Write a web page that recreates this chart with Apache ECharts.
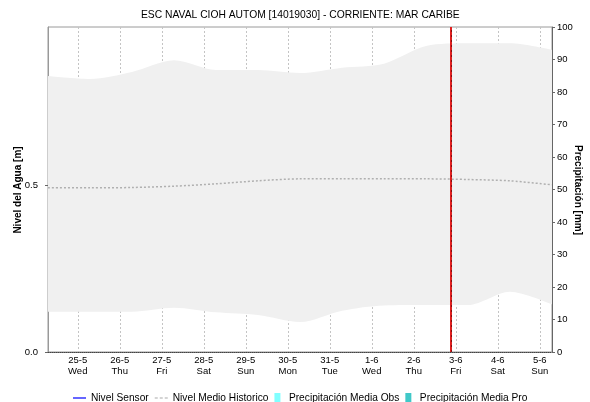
<!DOCTYPE html>
<html>
<head>
<meta charset="utf-8">
<script src="https://cdn.jsdelivr.net/npm/echarts@6/dist/echarts.min.js"></script>
<style>
html,body{margin:0;padding:0;background:#fff;}
#chart{width:590px;height:402px;}
</style>
</head>
<body>
<div id="chart"></div>
<script>
// ---- data ----
const titleText = 'ESC NAVAL CIOH AUTOM [14019030] - CORRIENTE: MAR CARIBE';
const leftAxisName = 'Nivel del Agua [m]';
const rightAxisName = 'Precipitación [mm]';
const times = ['2022-05-24 07:00','2022-05-25 07:00','2022-05-26 07:00','2022-05-27 07:00','2022-05-28 07:00','2022-05-29 07:00','2022-05-30 07:00','2022-05-31 07:00','2022-06-01 07:00','2022-06-02 07:00','2022-06-03 07:00','2022-06-04 07:00','2022-06-05 07:00'];
const bandLow  = [0.121,0.121,0.121,0.133,0.119,0.111,0.090,0.124,0.140,0.141,0.141,0.181,0.143];
const bandHigh = [0.829,0.820,0.841,0.876,0.847,0.847,0.838,0.854,0.866,0.919,0.927,0.927,0.907];
const nivelMedioHistorico = [0.493,0.493,0.494,0.498,0.505,0.514,0.520,0.520,0.520,0.520,0.518,0.514,0.502];
const nivelSensor = [];
const precipObs = [];
const precipPro = [];
const nowTime = '2022-06-02 21:15';
const xStart = '2022-05-24 07:00';
const xEnd = '2022-06-05 07:00';
const weekdays = ['Sun','Mon','Tue','Wed','Thu','Fri','Sat'];
const leftTicks = [0, 0.5];
const leftMax = 0.976;

function parseT(s){
  const [d, t] = s.split(' ');
  const [y, m, dd] = d.split('-').map(Number);
  const [hh, mm] = t.split(':').map(Number);
  return new Date(y, m - 1, dd, hh, mm).getTime();
}
const pairs = (arr) => arr.map((v, i) => [parseT(times[i]), v]);
const bandDiff = bandHigh.map((v, i) => +(v - bandLow[i]).toFixed(4));

const FONT = 'Liberation Sans, Arial, sans-serif';
const chart = echarts.init(document.getElementById('chart'), null, {renderer: 'canvas'});
chart.setOption({
  animation: false,
  backgroundColor: '#fff',
  textStyle: {fontFamily: FONT},
  title: {
    text: titleText, left: 136, top: 5,
    textStyle: {fontSize: 10.3, fontWeight: 'normal', color: '#000', fontFamily: FONT}
  },
  legend: {
    top: 388, left: 68,
    itemWidth: 13, itemHeight: 10, itemGap: 6,
    textStyle: {fontSize: 10.2, color: '#000', fontFamily: FONT},
    data: [
      {name: 'Nivel Sensor', icon: 'path://M0,4h13v1.2h-13z', itemStyle: {color: '#0000ff'}},
      {name: 'Nivel Medio Historico', icon: 'path://M0,4h3v1h-3zM5,4h3v1h-3zM10,4h3v1h-3z', itemStyle: {color: '#aaaaaa'}},
      {name: 'Precipitación Media Obs', icon: 'path://M0,0h6v10h-6z', itemStyle: {color: '#80ffff'}},
      {name: 'Precipitación Media Pro', icon: 'path://M0,0h6v10h-6z', itemStyle: {color: '#40c8c8'}}
    ]
  },
  graphic: [
    {type: 'text', x: 18, y: 190, rotation: Math.PI / 2, silent: true,
     style: {text: leftAxisName, align: 'center', verticalAlign: 'middle', fill: '#000', font: 'bold 10px ' + FONT}},
    {type: 'text', x: 578, y: 190, rotation: -Math.PI / 2, silent: true,
     style: {text: rightAxisName, align: 'center', verticalAlign: 'middle', fill: '#000', font: 'bold 10px ' + FONT}}
  ],
  grid: {left: 48, right: 38, top: 27, bottom: 50, show: true, borderColor: '#9a9a9a', borderWidth: 1, outerBoundsMode: 'none', containLabel: false},
  xAxis: {
    type: 'time',
    min: parseT(xStart), max: parseT(xEnd),
    minInterval: 86400000, maxInterval: 86400000,
    axisLine: {show: true, lineStyle: {color: '#444', type: [1, 1], width: 1}},
    axisTick: {show: false},
    splitLine: {show: true, lineStyle: {color: '#c4c4c4', type: [2, 2], width: 1}},
    axisLabel: {
      showMinLabel: false, showMaxLabel: false,
      color: '#000', fontSize: 9.5, lineHeight: 11, margin: 3, fontFamily: FONT,
      formatter: function (v) {
        const d = new Date(v);
        return d.getDate() + '-' + (d.getMonth() + 1) + '\n' + weekdays[d.getDay()];
      }
    }
  },
  yAxis: [
    {
      type: 'value', min: 0, max: leftMax, interval: 0.5,
      axisLine: {show: true, lineStyle: {color: '#999'}},
      axisTick: {show: true, length: 3, lineStyle: {color: '#666'}, customValues: leftTicks},
      axisLabel: {color: '#000', fontSize: 9.5, margin: 10, customValues: leftTicks, formatter: (v) => v.toFixed(1), fontFamily: FONT},
      splitLine: {show: true, lineStyle: {color: '#c0c0c0', type: [2, 2]}}
    },
    {
      type: 'value', min: 0, max: 100, interval: 10, position: 'right',
      axisLine: {show: true, lineStyle: {color: '#666'}},
      axisTick: {show: true, length: 3, lineStyle: {color: '#666'}},
      axisLabel: {color: '#000', fontSize: 9.5, margin: 5, fontFamily: FONT},
      splitLine: {show: false}
    }
  ],
  series: [
    {
      name: 'bandLow', type: 'line', yAxisIndex: 0, stack: 'band', smooth: 0.3,
      data: pairs(bandLow), symbol: 'none', lineStyle: {opacity: 0}, silent: true,
      areaStyle: {opacity: 0}
    },
    {
      name: 'bandHigh', type: 'line', yAxisIndex: 0, stack: 'band', smooth: 0.3,
      data: pairs(bandDiff), symbol: 'none', lineStyle: {opacity: 0}, silent: true,
      areaStyle: {color: '#f0f0f0', opacity: 1}
    },
    {
      name: 'Nivel Medio Historico', type: 'line', yAxisIndex: 0, smooth: 0.3,
      data: pairs(nivelMedioHistorico), symbol: 'none',
      itemStyle: {color: '#aaaaaa'},
      lineStyle: {color: '#b0b0b0', width: 1.5, type: [2, 2]},
      markLine: {
        silent: true, symbol: 'none', label: {show: false},
        data: [
          {xAxis: parseT(nowTime), lineStyle: {color: '#e02020', width: 2, type: 'solid'}},
          {xAxis: parseT(nowTime), lineStyle: {color: '#801010', width: 1, type: [2, 3]}}
        ]
      }
    },
    {
      name: 'Nivel Sensor', type: 'line', yAxisIndex: 0, data: pairs(nivelSensor), symbol: 'none',
      itemStyle: {color: '#0000ff'}, lineStyle: {color: '#0000ff', width: 1.5}
    },
    {
      name: 'Precipitación Media Obs', type: 'line', yAxisIndex: 1, data: precipObs, symbol: 'none',
      itemStyle: {color: '#80ffff'}
    },
    {
      name: 'Precipitación Media Pro', type: 'line', yAxisIndex: 1, data: precipPro, symbol: 'none',
      itemStyle: {color: '#40c8c8'}
    }
  ]
});
</script>
</body>
</html>
